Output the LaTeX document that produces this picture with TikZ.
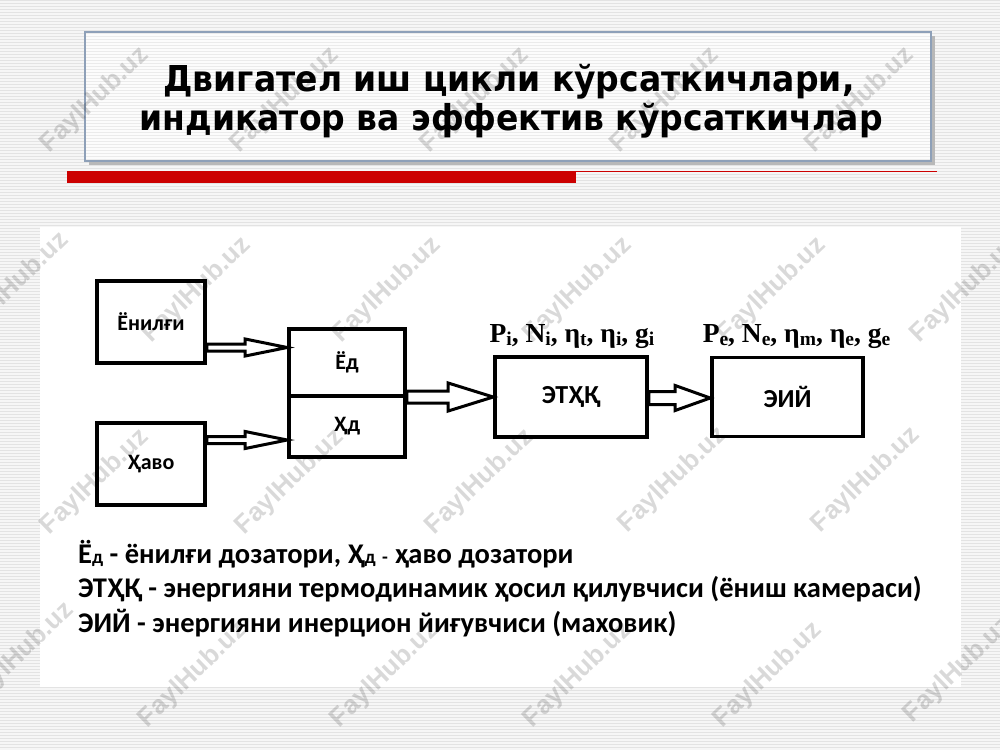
\documentclass[tikz,border=0pt]{standalone}
\usepackage{fontspec}
\setmainfont{Carlito}
\newfontfamily\titlefont{DejaVu Sans}
\newfontfamily\labfont{Liberation Serif}
\newfontfamily\wmfont{Liberation Sans}
\usetikzlibrary{calc}
\definecolor{bgc}{HTML}{F6F6F6}
\definecolor{stripe}{HTML}{E3E3E3}
\definecolor{boxfill}{HTML}{FCFCFC}
\definecolor{stripeb}{HTML}{EBEBEB}
\definecolor{tborder}{HTML}{8EA0B8}
\definecolor{redbar}{HTML}{CC0000}
\newcommand\sub[1]{\raisebox{-3pt}{\fontsize{19.5}{19.5}\selectfont #1}}
\newcommand\smd[1]{{\fontsize{19}{19}\selectfont #1}}
\newcommand\harrow[5]{%
  \draw[arr] ($#1+(0,-#3)$) -- ($#2+(-#5,-#3)$) -- ($#2+(-#5,-#4)$) -- #2
    -- ($#2+(-#5,#4)$) -- ($#2+(-#5,#3)$) -- ($#1+(0,#3)$) -- cycle;}
\tikzset{
  blk/.style={draw, line width=3.6pt, inner sep=0pt, font=\bfseries\fontsize{22}{24}\selectfont},
  bigblk/.style={blk, font=\bfseries\fontsize{26}{28}\selectfont},
  arr/.style={draw, fill=white, line width=3pt, line join=miter},
  lab/.style={anchor=base, inner sep=0pt, font=\labfont\bfseries\fontsize{27.5}{30}\selectfont},
  desc/.style={anchor=base west, inner sep=0pt, font=\bfseries\fontsize{28.5}{32}\selectfont},
  ttl/.style={anchor=base, inner sep=0pt, yscale=1.08, font=\titlefont\bfseries\fontsize{33}{38}\selectfont},
  wm/.style={inner sep=0pt, rotate=44, text=black, opacity=0.15, font=\wmfont\bfseries\fontsize{26}{28}\selectfont}
}
\begin{document}
\begin{tikzpicture}[x=1pt,y=-1pt]
\useasboundingbox (0,0) rectangle (1000,750);
% background
\fill[bgc] (0,0) rectangle (1000,750);
\foreach \i in {0,...,249} \fill[stripe] (0,3*\i) rectangle (1000,3*\i+1.2);
% title box
\fill[black!28] (89,36) rectangle (934.5,164.5);
\node[draw=tborder, line width=1.2pt, fill=boxfill, minimum width=846pt, minimum height=129pt, inner sep=0pt] (tbox) at (508,96.5) {};
\begin{scope}
  \clip (86,33) rectangle (930,160);
  \foreach \i in {11,...,54} \fill[stripeb] (86,3*\i) rectangle (930,3*\i+1);
\end{scope}
\node[ttl] (t1) at (509,91) {Двигател иш цикли кўрсаткичлари,};
\node[ttl] (t2) at (511,130) {индикатор ва эффектив кўрсаткичлар};
% red bar
\fill[redbar] (67,171) rectangle (576,183);
\draw[redbar, line width=1pt] (576,171.5) -- (937,171.5);
% white panel
\fill[white] (40,227) rectangle (961,687);
% boxes
\node[blk, minimum width=108pt, minimum height=82pt] (en) at (151,322) {Ёнилғи};
\node[blk, minimum width=108pt, minimum height=82pt] (hv) at (151,464) {Ҳаво};
\node[blk, minimum width=116pt, minimum height=67pt] (yd) at (347,362.5) {Ёд};
\node[blk, minimum width=116pt, minimum height=61pt] (hd) at (347,426.5) {Ҳд};
\node[bigblk, minimum width=152pt, minimum height=80pt] (et) at (571,397) {ЭТҲҚ};
\node[bigblk, minimum width=151pt, minimum height=79pt] (ei) at (787.5,397) {ЭИЙ};
% arrows
\coordinate (a1) at ($(en.east)+(0,25.5)$);
\coordinate (b1) at (a1 -| yd.west);
\harrow{(a1)}{(b1)}{3.5}{8.5}{42}
\coordinate (a2) at ($(hv.east)+(0,-24)$);
\coordinate (b2) at (a2 -| hd.west);
\harrow{(a2)}{(b2)}{3.5}{8.5}{42}
\coordinate (a3) at (yd.east |- et.west);
\harrow{(a3)}{(et.west)}{6}{14}{45}
\coordinate (a4) at ($(et.east)+(0,1)$);
\coordinate (b4) at (a4 -| ei.west);
\harrow{(a4)}{(b4)}{6.5}{12.5}{35}
% labels
\node[lab] (li) at ($(et.north)+(1,-13)$) {P\sub{i}, N\sub{i}, η\sub{t}, η\sub{i}, g\sub{i}};
\node[lab] (le) at ($(ei.north)+(9,-13)$) {P\sub{e}, N\sub{e}, η\sub{m}, η\sub{e}, g\sub{e}};
% description
\node[desc] (d1) at (78,563) {Ё\smd{д} - ёнилғи дозатори, Ҳ\smd{д} \smd{-} ҳаво дозатори};
\node[desc] (d2) at (78,597) {ЭТҲҚ - энергияни термодинамик ҳосил қилувчиси (ёниш камераси)};
\node[desc] (d3) at (78,632) {ЭИЙ - энергияни инерцион йиғувчиси (маховик)};
% watermarks
\foreach \x/\y in {95/100,285/100,475/100,665/100,860/100,
                   15/285,197/290,387/290,578/290,772/290,965/290,
                   95/482,290/482,480/482,673/480,866/480,
                   20/655,193/675,385/675,578/675,768/675,958/670}
  \node[wm] (wm-\x-\y) at (\x,\y) {FaylHub.uz};
\end{tikzpicture}
\end{document}
